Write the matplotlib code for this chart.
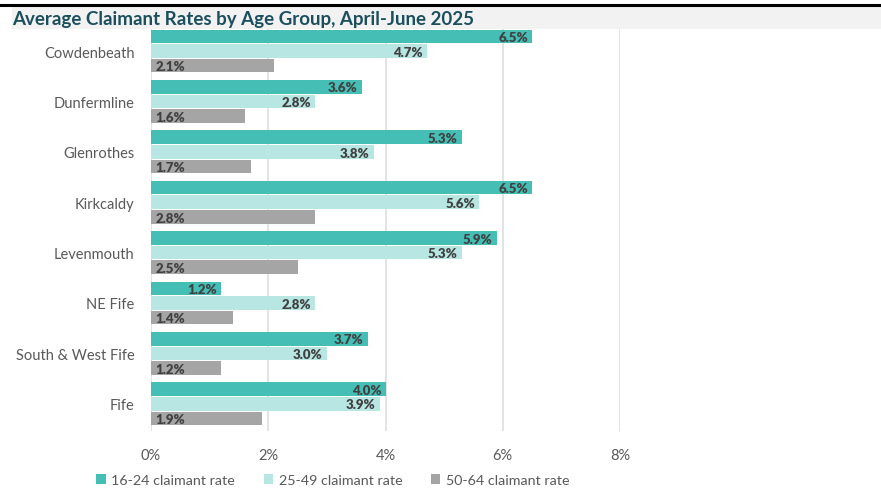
import matplotlib
matplotlib.use("Agg")
import matplotlib.pyplot as plt
from matplotlib.patches import Rectangle, Patch
from matplotlib.lines import Line2D
import numpy as np

categories = ["Cowdenbeath", "Dunfermline", "Glenrothes", "Kirkcaldy",
              "Levenmouth", "NE Fife", "South & West Fife", "Fife"]
rate_16_24 = [6.5, 3.6, 5.3, 6.5, 5.9, 1.2, 3.7, 4.0]
rate_25_49 = [4.7, 2.8, 3.8, 5.6, 5.3, 2.8, 3.0, 3.9]
rate_50_64 = [2.1, 1.6, 1.7, 2.8, 2.5, 1.4, 1.2, 1.9]
series_names = ["16-24 claimant rate", "25-49 claimant rate", "50-64 claimant rate"]
xticks = [0, 2, 4, 6, 8]
title = "Average Claimant Rates by Age Group, April-June 2025"

colors = ["#45BFB6", "#B8E6E2", "#A5A5A5"]
plt.rcParams['font.family'] = ['Lato', 'DejaVu Sans']

W, H = 881, 502
fig = plt.figure(figsize=(W/100, H/100), dpi=100)
ax = fig.add_axes([151/W, 1-432/H, (620-151)/W, (432-30)/H])

y = np.arange(len(categories))
off = 0.29
h = 0.27
for k, (vals, c) in enumerate(zip([rate_16_24, rate_25_49, rate_50_64], colors)):
    pos = y + (k-1)*off
    ax.barh(pos, vals, height=h, color=c, zorder=3)
    for p, v in zip(pos, vals):
        if k < 2:
            ax.annotate(f"{v:.1f}%", (v, p), xytext=(-3, -0.5), textcoords="offset points",
                        ha="right", va="center", fontsize=9.5, fontweight="heavy",
                        color="#404040", zorder=4)
        else:
            ax.annotate(f"{v:.1f}%", (0, p), xytext=(3, -0.5), textcoords="offset points",
                        ha="left", va="center", fontsize=9.5, fontweight="heavy",
                        color="#404040", zorder=4)

ax.set_xlim(0, 8)
ax.set_ylim(7.54, -0.437)
ax.set_xticks(xticks)
ax.set_xticklabels([f"{t}%" for t in xticks])
ax.set_yticks(y)
ax.set_yticklabels(categories)
ax.tick_params(axis="both", length=0, labelsize=10.5, colors="#595959")
ax.tick_params(axis="x", pad=12)
ax.tick_params(axis="y", pad=12)
ax.grid(axis="x", color="#E0E0E0", linewidth=1.3, zorder=0)
for s in ax.spines.values():
    s.set_visible(False)

# header
fig.patches.append(Rectangle((12/W, 1-30/H), (W-12)/W, 22/H, transform=fig.transFigure,
                             facecolor="#F2F2F2", edgecolor="none", zorder=0))
fig.add_artist(Line2D([0, 1], [1-6/H, 1-6/H], transform=fig.transFigure,
                      color="black", linewidth=2.2))
fig.text(12/W, 1-19/H, title, fontsize=13.5, fontweight="bold", color="#1B4F5E",
         ha="left", va="center")

handles = [Patch(facecolor=c, edgecolor="none") for c in colors]
fig.legend(handles, series_names, loc="center", bbox_to_anchor=(333/W, 1-481/H),
           ncol=3, frameon=False, fontsize=10.3, handlelength=0.65, handleheight=0.65,
           handletextpad=0.4, columnspacing=2.0, labelcolor="#595959")

fig.savefig("out.png", dpi=100)
